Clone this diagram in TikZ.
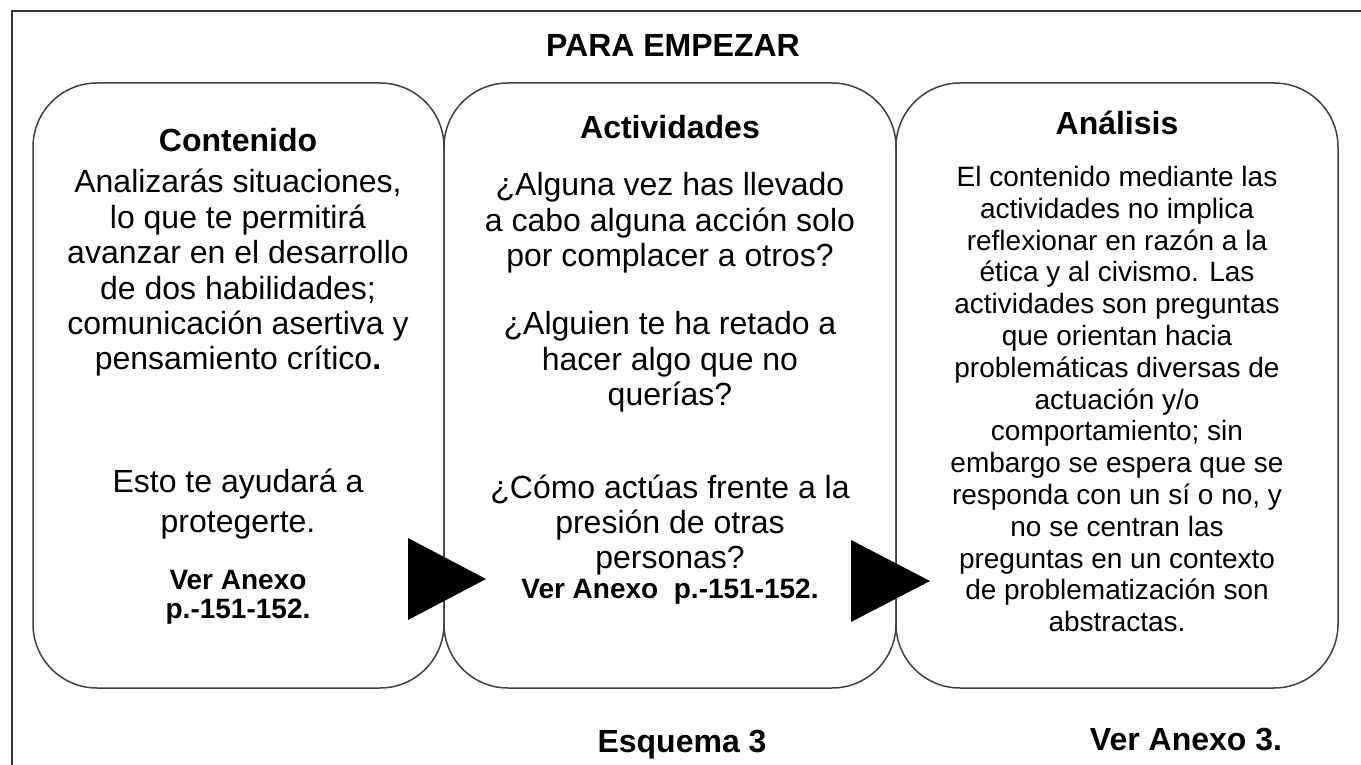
\documentclass[tikz,border=0pt]{standalone}
\usepackage{fontspec}
\setmainfont{Liberation Sans}
\usepackage{tikz}
\tikzset{box/.style={draw=black!75, line width=0.75pt, rounded corners=32pt}}
\tikzset{txt/.style={align=center, inner sep=0pt, font=\fontsize{16}{17.7}\selectfont}}
\tikzset{sm/.style={align=center, inner sep=0pt, font=\fontsize{14}{15.9}\selectfont}}
\tikzset{hd/.style={inner sep=0pt, font=\fontsize{16}{18}\selectfont\bfseries}}
\tikzset{anx/.style={align=center, inner sep=0pt, font=\fontsize{14}{14.5}\selectfont\bfseries}}

\begin{document}
\begin{tikzpicture}[x=0.5pt, y=-0.5pt]
		\useasboundingbox (0,0) rectangle (1361,765);
		\draw[black!80, line width=0.6pt] (12,765) -- (12,11) -- (1361,11);

		% the three boxes
		\draw[box] (33,83) rectangle (444,688);
		\draw[box] (444,83) rectangle (896,688);
		\draw[box] (896,83) rectangle (1338,688);

		\node[hd] (0) at (673,45) {PARA EMPEZAR};

		\node[hd] (1) at (238,140) {Contenido};
		\node[txt] (2) at (238,273) {Analizarás situaciones,\\ lo que te permitirá\\ avanzar en el desarrollo\\ de dos habilidades;\\ comunicación asertiva y\\ pensamiento crítico\textbf{.}};
		\node[txt, font=\fontsize{16}{20}\selectfont] (3) at (238,504) {Esto te ayudará a\\ protegerte.};
		\node[anx] (4) at (238,597) {Ver Anexo\\ p.-151-152.};

		\node[hd] (5) at (670,127) {Actividades};
		\node[txt] (6) at (670,223) {¿Alguna vez has llevado\\ a cabo alguna acción solo\\ por complacer a otros?};
		\node[txt] (7) at (670,362) {¿Alguien te ha retado a\\ hacer algo que no\\ querías?};
		\node[txt] (8) at (670,525) {¿Cómo actúas frente a la\\ presión de otras\\ personas?};
		\node[anx] (9) at (670,592) {Ver Anexo~~p.-151-152.};

		\node[hd] (10) at (1117,123) {Análisis};
		\node[sm] (11) at (1117,399) {El contenido mediante las\\ actividades no implica\\ reflexionar en razón a la\\ ética y al civismo. Las\\ actividades son preguntas\\ que orientan hacia\\ problemáticas diversas de\\ actuación y/o\\ comportamiento; sin\\ embargo se espera que se\\ responda con un sí o no, y\\ no se centran las\\ preguntas en un contexto\\ de problematización son\\ abstractas.};

		\node[hd] (12) at (682,745) {Esquema 3};
		\node[hd] (13) at (1186,740) {Ver Anexo 3.};

		% arrows between the boxes
		\fill (408,538) -- (408,620) -- (486,579) -- cycle;
		\fill (851,540) -- (851,622) -- (930,581) -- cycle;
	\end{tikzpicture}
\end{document}
